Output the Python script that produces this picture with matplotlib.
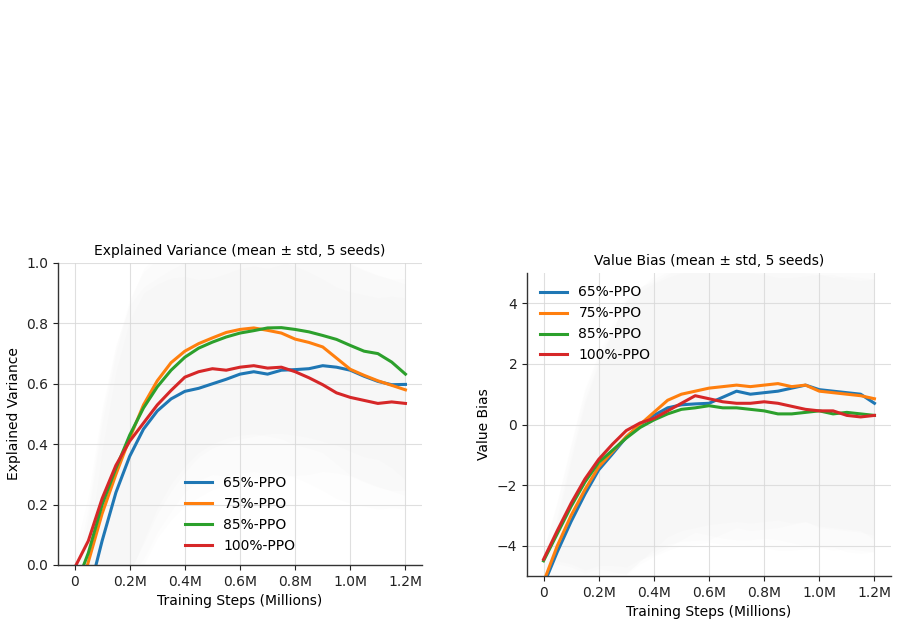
import numpy as np
import matplotlib
matplotlib.use("Agg")
import matplotlib.pyplot as plt
from matplotlib.ticker import FuncFormatter

# training steps (millions)
steps = [0.0, 0.05, 0.1, 0.15, 0.2, 0.25, 0.3, 0.35, 0.4, 0.45, 0.5, 0.55, 0.6,
         0.65, 0.7, 0.75, 0.8, 0.85, 0.9, 0.95, 1.0, 1.05, 1.1, 1.15, 1.2]

labels = ["65%-PPO", "75%-PPO", "85%-PPO", "100%-PPO"]
colors = ["#1f77b4", "#ff7f0e", "#2ca02c", "#d62728"]

# explained variance (mean)
ev_65 = [-0.25, -0.10, 0.08, 0.24, 0.36, 0.45, 0.51, 0.55, 0.575, 0.585, 0.60, 0.615, 0.632,
         0.64, 0.632, 0.645, 0.647, 0.65, 0.66, 0.655, 0.645, 0.625, 0.608, 0.597, 0.598]
ev_75 = [-0.15, 0.01, 0.17, 0.30, 0.42, 0.53, 0.61, 0.67, 0.708, 0.733, 0.752, 0.77, 0.78,
         0.785, 0.777, 0.768, 0.748, 0.737, 0.722, 0.685, 0.648, 0.628, 0.61, 0.595, 0.58]
ev_85 = [-0.08, 0.04, 0.20, 0.32, 0.43, 0.52, 0.59, 0.645, 0.688, 0.718, 0.738, 0.755, 0.768,
         0.776, 0.785, 0.786, 0.78, 0.772, 0.76, 0.747, 0.727, 0.708, 0.70, 0.672, 0.632]
ev_100 = [-0.01, 0.08, 0.22, 0.33, 0.41, 0.47, 0.53, 0.578, 0.622, 0.64, 0.65, 0.645, 0.655,
          0.66, 0.652, 0.655, 0.64, 0.62, 0.597, 0.57, 0.555, 0.545, 0.535, 0.54, 0.535]
ev_std = [0.05, 0.15, 0.30, 0.40, 0.45, 0.45, 0.42, 0.40, 0.38, 0.36, 0.35, 0.35, 0.35,
          0.35, 0.35, 0.35, 0.35, 0.35, 0.35, 0.35, 0.35, 0.35, 0.35, 0.35, 0.35]

# value bias (mean)
vb_65 = [-5.3, -4.2, -3.2, -2.3, -1.5, -0.97, -0.42, 0.0, 0.3, 0.55, 0.65, 0.68, 0.7,
         0.9, 1.1, 1.0, 1.05, 1.1, 1.2, 1.3, 1.15, 1.1, 1.05, 1.0, 0.7]
vb_75 = [-5.2, -4.0, -3.0, -2.15, -1.4, -0.9, -0.4, 0.0, 0.4, 0.8, 1.0, 1.1, 1.2,
         1.25, 1.3, 1.25, 1.3, 1.35, 1.25, 1.3, 1.1, 1.05, 1.0, 0.95, 0.85]
vb_85 = [-4.5, -3.6, -2.7, -1.9, -1.25, -0.85, -0.45, -0.1, 0.15, 0.35, 0.5, 0.55, 0.62,
         0.55, 0.55, 0.5, 0.45, 0.35, 0.35, 0.4, 0.45, 0.35, 0.4, 0.35, 0.3]
vb_100 = [-4.45, -3.5, -2.6, -1.8, -1.15, -0.65, -0.2, 0.05, 0.2, 0.45, 0.7, 0.95, 0.85,
          0.75, 0.7, 0.7, 0.75, 0.7, 0.6, 0.5, 0.45, 0.45, 0.3, 0.25, 0.3]
vb_std = [0.3, 1.0, 2.0, 3.0, 3.5, 4.0, 4.5, 4.5, 4.5, 4.5, 4.5, 4.5, 4.5,
          4.5, 4.5, 4.5, 4.5, 4.5, 4.5, 4.5, 4.5, 4.5, 4.5, 4.5, 4.5]

x = np.array(steps)
fig = plt.figure(figsize=(8.99, 6.25), dpi=100)
ax1 = fig.add_axes([58 / 899, 60 / 625, 364 / 899, 302 / 625])
ax2 = fig.add_axes([527 / 899, 49 / 625, 364 / 899, 303 / 625])

def style(ax):
    ax.spines["top"].set_visible(False)
    ax.spines["right"].set_visible(False)
    for s in ["left", "bottom"]:
        ax.spines[s].set_color("#333333")
        ax.spines[s].set_linewidth(1.0)
    ax.grid(True, color="#d8d8d8", linewidth=0.8, alpha=0.8)
    ax.tick_params(labelsize=10, colors="#222222")
    ax.set_xlim(-0.06, 1.26)
    ax.set_xticks([0, 0.2, 0.4, 0.6, 0.8, 1.0, 1.2])
    ax.xaxis.set_major_formatter(FuncFormatter(lambda v, p: "0" if v == 0 else f"{v:.1f}M"))
    ax.set_xlabel("Training Steps (Millions)", fontsize=10)

ev_series = [ev_65, ev_75, ev_85, ev_100]
vb_series = [vb_65, vb_75, vb_85, vb_100]

for ys, c, lab in zip(ev_series, colors, labels):
    ys = np.array(ys)
    ax1.fill_between(x, ys - np.array(ev_std), ys + np.array(ev_std),
                     color="#d6d0c8", alpha=0.035, linewidth=0)
    ax1.plot(x, ys, color=c, lw=2.2, label=lab)
style(ax1)
ax1.set_ylim(0, 1.0)
ax1.set_ylabel("Explained Variance", fontsize=10)
ax1.set_title("Explained Variance (mean ± std, 5 seeds)", fontsize=10)
ax1.legend(loc="lower center", frameon=False, fontsize=10, handlelength=2.0)

for ys, c, lab in zip(vb_series, colors, labels):
    ys = np.array(ys)
    ax2.fill_between(x, ys - np.array(vb_std), ys + np.array(vb_std),
                     color="#d6d0c8", alpha=0.035, linewidth=0)
    ax2.plot(x, ys, color=c, lw=2.2, label=lab)
style(ax2)
ax2.set_ylim(-5, 5)
ax2.set_yticks([-4, -2, 0, 2, 4])
ax2.set_ylabel("Value Bias", fontsize=10)
ax2.set_title("Value Bias (mean ± std, 5 seeds)", fontsize=10)
ax2.legend(loc="upper left", frameon=False, fontsize=10, handlelength=2.0)

fig.savefig("out.png", dpi=100)
